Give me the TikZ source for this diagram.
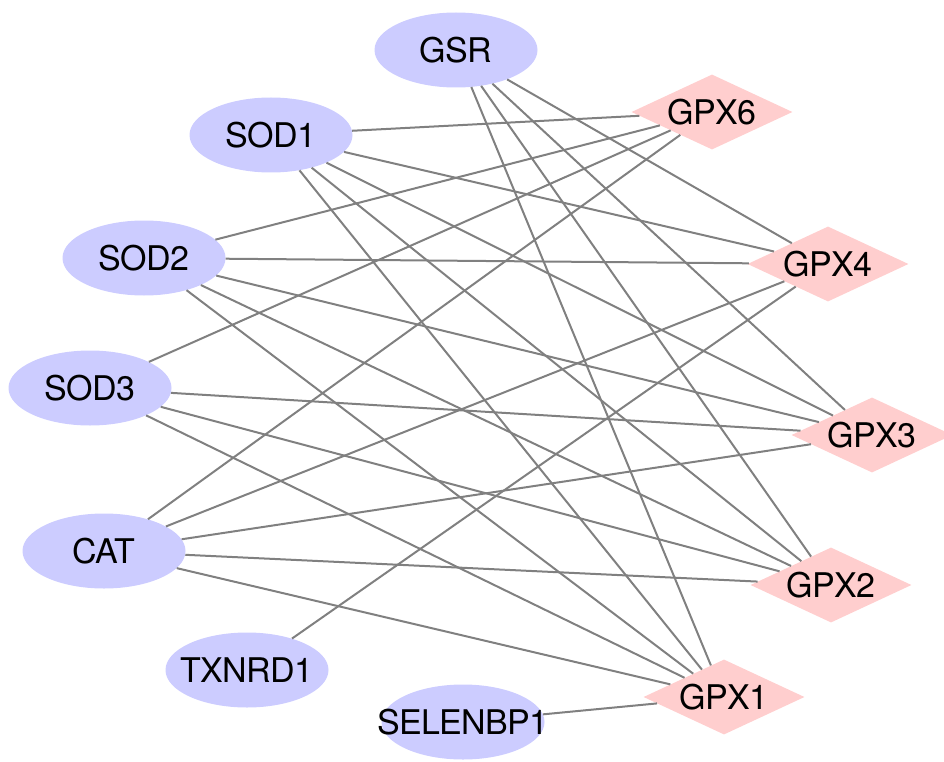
\documentclass[tikz,border=0pt]{standalone}
\usepackage{fontspec}
\setmainfont{TeX Gyre Heros}[LetterSpace=-2]
\usetikzlibrary{shapes.geometric}
\definecolor{enz}{RGB}{204,204,255}
\definecolor{gpx}{RGB}{255,206,206}
\definecolor{edge}{RGB}{128,128,128}
\newcommand{\zw}[1]{\makebox[0pt]{#1}}
\tikzset{
  enzyme/.style={ellipse, fill=enz, minimum width=163pt, minimum height=75pt, inner sep=0pt,
    font=\fontsize{34}{34}\selectfont},
  gpxnode/.style={diamond, fill=gpx, shape aspect=2.15, minimum width=161pt, minimum height=75pt, inner sep=0pt,
    font=\fontsize{34}{34}\selectfont},
  link/.style={draw=edge, line width=2pt}
}
\begin{document}
\begin{tikzpicture}[x=1pt,y=-1pt]
\useasboundingbox (0,0) rectangle (944,762);
\node[enzyme] (GSR) at (456,50) {\zw{GSR}};
\node[enzyme] (SOD1) at (271,135) {\zw{SOD1}};
\node[enzyme] (SOD2) at (144,258) {\zw{SOD2}};
\node[enzyme] (SOD3) at (90,388) {\zw{SOD3}};
\node[enzyme] (CAT) at (104,551) {\zw{CAT}};
\node[enzyme] (TXNRD1) at (247,670) {\zw{TXNRD1}};
\node[enzyme] (SELENBP1) at (463,722) {\zw{SELENBP1}};
\node[gpxnode] (GPX6) at (712,112) {\zw{GPX6}};
\node[gpxnode] (GPX4) at (828,264) {\zw{GPX4}};
\node[gpxnode] (GPX3) at (872,435) {\zw{GPX3}};
\node[gpxnode] (GPX2) at (831,585) {\zw{GPX2}};
\node[gpxnode] (GPX1) at (724,697) {\zw{GPX1}};
\foreach \a/\b in {GSR/GPX4, GSR/GPX3, GSR/GPX2, GSR/GPX1,
  SOD1/GPX6, SOD1/GPX4, SOD1/GPX3, SOD1/GPX2, SOD1/GPX1,
  SOD2/GPX6, SOD2/GPX4, SOD2/GPX3, SOD2/GPX2, SOD2/GPX1,
  SOD3/GPX6, SOD3/GPX3, SOD3/GPX2, SOD3/GPX1,
  CAT/GPX6, CAT/GPX4, CAT/GPX3, CAT/GPX2, CAT/GPX1,
  TXNRD1/GPX4, SELENBP1/GPX1}
  \draw[link] (\a) -- (\b);
\end{tikzpicture}
\end{document}
